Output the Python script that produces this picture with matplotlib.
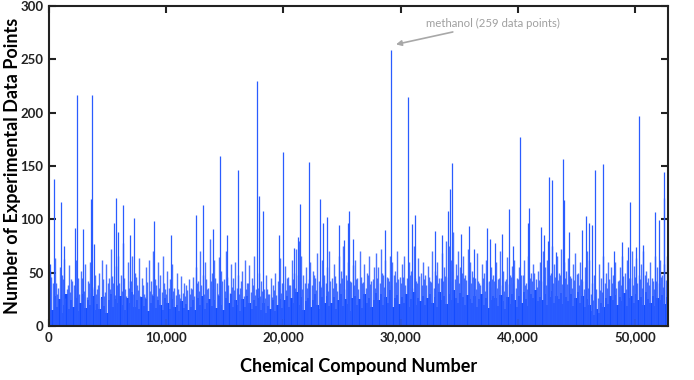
import matplotlib
matplotlib.use("Agg")
import matplotlib.pyplot as plt
import numpy as np
from matplotlib.ticker import FuncFormatter

plt.rcParams['font.family'] = ['Lato', 'DejaVu Sans']

# ---- data ----
# prominent spikes: compound number and number of data points
peak_x = [60, 430, 1000, 1250, 2190, 2360, 2930, 3580, 3640, 3820, 5575, 5690, 5850,
          6340, 6910, 7225, 8930, 10380, 12515, 13140, 13965, 14565, 15160, 16125,
          17720, 17890, 18230, 19650, 19940, 20905, 21275, 21415, 22155, 23120, 23410,
          23720, 24770, 25170, 25540, 25625, 25910, 28700, 29210, 30630, 30945, 31230,
          32935, 33560, 34045, 34190, 34360, 35130, 35840, 36240, 37345, 37630, 38055,
          38650, 39250, 39620, 40190, 40900, 40980, 41980, 42235, 42600, 42690, 42890,
          43260, 43830, 43940, 44340, 45480, 45790, 46100, 46330, 46590, 47300, 48235,
          48890, 49370, 49575, 50060, 50370, 50650, 51680, 52050, 52450, 52500]
peak_h = [58, 138, 116, 75, 92, 217, 91, 119, 217, 77, 97, 120, 88,
          113, 85, 101, 98, 85, 104, 113, 91, 159, 85, 146,
          230, 122, 108, 85, 163, 73, 83, 114, 154, 119, 97,
          102, 95, 81, 97, 108, 82, 90, 259, 215, 96, 104,
          89, 85, 108, 128, 153, 86, 94, 72, 92, 82, 78,
          86, 110, 75, 177, 97, 111, 93, 85, 80, 140, 137,
          69, 157, 118, 88, 90, 103, 97, 95, 146, 152, 70,
          79, 74, 116, 74, 197, 76, 107, 99, 144, 120]

# medium spikes, one every 200 compounds (starting at compound 100)
mid_h = [52, 40, 64, 30, 55, 48, 63, 35, 57, 44,
         38, 62, 45, 52, 30, 58, 42, 60, 37, 48,
         35, 50, 62, 28, 58, 45, 72, 40, 56, 66,
         48, 78, 35, 60, 42, 66, 50, 38, 64, 45,
         30, 55, 62, 42, 70, 38, 60, 48, 66, 35,
         52, 44, 58, 36, 50, 30, 47, 40, 38, 44,
         36, 46, 55, 42, 70, 48, 60, 35, 82, 50,
         62, 40, 65, 52, 44, 70, 38, 58, 45, 60,
         48, 36, 52, 62, 40, 57, 45, 66, 35, 50,
         42, 35, 48, 30, 45, 38, 50, 42, 64, 40,
         56, 45, 38, 62, 50, 72, 80, 66, 48, 55,
         40, 60, 52, 45, 68, 38, 62, 48, 55, 70,
         45, 58, 40, 66, 52, 75, 48, 60, 42, 57,
         62, 45, 70, 40, 58, 50, 66, 42, 55, 68,
         55, 72, 48, 62, 45, 66, 60, 52, 70, 46,
         58, 66, 45, 60, 52, 75, 42, 64, 50, 60,
         48, 56, 42, 70, 52, 60, 45, 68, 55, 80,
         75, 62, 88, 58, 70, 55, 66, 48, 72, 60,
         52, 45, 68, 40, 58, 50, 62, 42, 55, 48,
         60, 44, 70, 52, 42, 65, 48, 56, 62, 45,
         55, 48, 62, 40, 66, 50, 58, 44, 52, 60,
         70, 55, 62, 48, 75, 58, 66, 50, 72, 60,
         52, 64, 45, 58, 68, 50, 60, 42, 55, 70,
         62, 40, 48, 35, 58, 45, 66, 50, 60, 55,
         48, 60, 42, 55, 66, 50, 62, 45, 70, 56,
         64, 48, 58, 70, 52, 45, 60, 42, 66, 55,
         62, 48, 58, 66]

# second row of medium spikes, offset by 100 compounds
mid2_h = [34, 46, 28, 40, 36, 30, 44, 26, 38, 32,
          42, 28, 36, 30, 45, 33, 27, 40, 31, 35,
          30, 38, 26, 44, 32, 40, 35, 47, 29, 38,
          40, 33, 45, 28, 36, 42, 30, 46, 34, 28,
          38, 27, 41, 33, 30, 44, 28, 36, 32, 40,
          30, 36, 27, 33, 29, 35, 26, 31, 28, 34,
          30, 35, 28, 40, 33, 38, 30, 44, 36, 42,
          35, 45, 30, 38, 42, 33, 46, 31, 37, 34,
          36, 30, 42, 28, 35, 40, 32, 38, 29, 36,
          28, 33, 26, 35, 30, 27, 34, 29, 36, 31,
          40, 34, 46, 38, 44, 36, 48, 42, 35, 40,
          36, 44, 38, 48, 34, 42, 37, 45, 40, 33,
          42, 36, 47, 33, 40, 45, 35, 43, 38, 41,
          38, 44, 35, 46, 41, 36, 48, 39, 44, 36,
          45, 40, 50, 37, 46, 42, 38, 48, 41, 44,
          40, 46, 38, 44, 48, 36, 45, 40, 47, 38,
          44, 38, 46, 41, 36, 48, 40, 45, 42, 47,
          46, 42, 52, 44, 48, 40, 50, 45, 43, 48,
          40, 46, 35, 42, 38, 45, 33, 41, 37, 44,
          42, 36, 45, 38, 33, 44, 39, 46, 40, 36,
          44, 40, 48, 38, 35, 45, 42, 50, 37, 43,
          42, 47, 38, 45, 50, 40, 46, 43, 48, 39,
          45, 39, 47, 36, 43, 49, 38, 44, 35, 42,
          36, 30, 24, 28, 26, 34, 32, 40, 36, 44,
          40, 45, 36, 43, 38, 47, 35, 42, 45, 38,
          46, 40, 44, 36, 48, 41, 38, 45, 35, 42,
          40, 46, 37, 43]

# dense low background, one level per 200 compounds
base_h = [22, 15, 28, 18, 25, 12, 20, 30, 16, 24,
          18, 26, 14, 22, 30, 17, 24, 20, 28, 15,
          21, 16, 27, 19, 12, 24, 30, 18, 25, 22,
          28, 20, 15, 26, 22, 32, 18, 24, 16, 27,
          19, 25, 14, 22, 28, 17, 24, 20, 15, 26,
          22, 16, 25, 18, 20, 14, 23, 17, 21, 15,
          18, 24, 15, 26, 20, 28, 16, 22, 25, 19,
          24, 17, 28, 20, 15, 26, 22, 30, 18, 24,
          20, 14, 25, 18, 28, 22, 16, 24, 19, 26,
          15, 22, 12, 19, 16, 24, 14, 20, 25, 17,
          24, 28, 18, 26, 22, 32, 20, 27, 15, 23,
          26, 18, 24, 30, 20, 16, 27, 22, 28, 19,
          22, 27, 16, 24, 30, 19, 25, 21, 14, 26,
          28, 20, 25, 17, 30, 22, 26, 18, 24, 31,
          24, 30, 20, 27, 22, 34, 18, 26, 29, 21,
          27, 22, 30, 18, 25, 32, 20, 26, 23, 28,
          20, 26, 30, 22, 27, 18, 32, 24, 28, 21,
          30, 24, 34, 26, 22, 31, 27, 20, 29, 25,
          22, 28, 18, 25, 30, 20, 26, 17, 24, 28,
          26, 19, 29, 23, 16, 27, 21, 30, 24, 18,
          28, 22, 32, 25, 19, 30, 26, 34, 23, 27,
          24, 30, 20, 27, 33, 22, 28, 25, 31, 21,
          27, 23, 30, 19, 26, 32, 22, 28, 18, 25,
          20, 14, 10, 16, 12, 22, 18, 26, 21, 28,
          24, 29, 20, 27, 23, 31, 19, 26, 28, 22,
          30, 24, 27, 20, 32, 25, 22, 28, 19, 26,
          24, 29, 21, 27]

bin_width = 200
x_tick_vals = [0, 10000, 20000, 30000, 40000, 50000]
y_tick_vals = [0, 50, 100, 150, 200, 250, 300]

# ---- figure ----
fig = plt.figure(figsize=(6.94, 3.80), dpi=100)
ax = fig.add_axes([0.0706, 0.1421, 0.9625 - 0.0706, 0.9842 - 0.1421])

x_mid = np.arange(len(mid_h)) * bin_width + bin_width / 2
x_mid2 = np.arange(len(mid2_h)) * bin_width
x_base = np.arange(len(base_h)) * bin_width + bin_width / 2

solid = '#0a46ff'
ax.vlines(x_mid2, 0, mid2_h, colors='#2d5dff', linewidth=1.0, alpha=0.85)
ax.vlines(x_mid, 0, mid_h, colors='#2d5dff', linewidth=1.0, alpha=0.85)
ax.vlines(peak_x, 0, peak_h, colors='#2a5cff', linewidth=0.9)
ax.bar(x_base, base_h, width=bin_width, color=solid, linewidth=0)

ax.set_xlim(0, 52800)
ax.set_ylim(0, 300)
ax.set_xticks(x_tick_vals)
ax.set_yticks(y_tick_vals)
ax.xaxis.set_major_formatter(FuncFormatter(lambda v, p: f"{int(v):,}"))
ax.tick_params(direction='in', length=5, width=1.5, top=True, right=True,
               labelsize=9.5, colors='#222222', pad=4)
for lab in ax.get_xticklabels() + ax.get_yticklabels():
    lab.set_fontweight('bold')
for s in ax.spines.values():
    s.set_linewidth(1.5)
    s.set_color('#222222')

ax.set_xlabel('Chemical Compound Number', fontsize=13, fontweight='bold')
ax.set_ylabel('Number of Experimental Data Points', fontsize=13, fontweight='bold')
ax.xaxis.set_label_coords(0.5, -0.10)
ax.yaxis.set_label_coords(-0.045, 0.5)

ax.annotate('methanol (259 data points)', xy=(29600, 264), xytext=(32200, 284),
            fontsize=8.2, color='#a0a0a0', va='center', ha='left',
            arrowprops=dict(arrowstyle='-|>', color='#a8a8a8', lw=1.2,
                            shrinkA=2, shrinkB=0, mutation_scale=8))

fig.savefig('out.png', dpi=100)
